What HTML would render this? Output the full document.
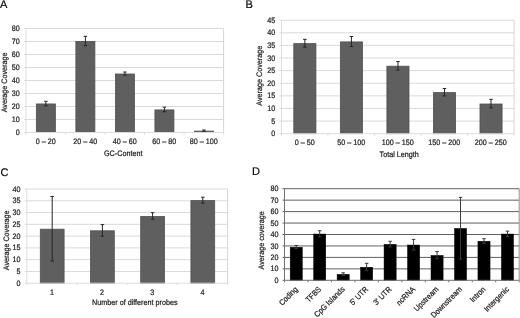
<!DOCTYPE html>
<html><head><meta charset="utf-8"><style>
html,body{margin:0;padding:0;background:#fff;width:520px;height:318px;overflow:hidden}
svg{display:block;will-change:transform}
text{text-rendering:geometricPrecision;font-family:"Liberation Sans", sans-serif;stroke:#1a1a1a;stroke-width:0.2px}
</style></head><body>
<svg width="520" height="318" viewBox="0 0 520 318">
<rect width="520" height="318" fill="#fff"/>
<line x1="24" y1="119.5" x2="223.6" y2="119.5" stroke="#dadada" stroke-width="1"/>
<line x1="24" y1="106.5" x2="223.6" y2="106.5" stroke="#dadada" stroke-width="1"/>
<line x1="24" y1="93.5" x2="223.6" y2="93.5" stroke="#dadada" stroke-width="1"/>
<line x1="24" y1="80.5" x2="223.6" y2="80.5" stroke="#dadada" stroke-width="1"/>
<line x1="24" y1="67.5" x2="223.6" y2="67.5" stroke="#dadada" stroke-width="1"/>
<line x1="24" y1="54.5" x2="223.6" y2="54.5" stroke="#dadada" stroke-width="1"/>
<line x1="24" y1="41.5" x2="223.6" y2="41.5" stroke="#dadada" stroke-width="1"/>
<line x1="24" y1="28.5" x2="223.6" y2="28.5" stroke="#dadada" stroke-width="1"/>
<line x1="223.6" y1="28.5" x2="223.6" y2="132.5" stroke="#d6d6d6" stroke-width="1"/>
<rect x="36.36" y="103.95" width="19" height="28.55" fill="#5f5f5f" stroke="#505050" stroke-width="0.8"/>
<rect x="75.88" y="41.4" width="19" height="91.1" fill="#5f5f5f" stroke="#505050" stroke-width="0.8"/>
<rect x="115.4" y="74" width="19" height="58.5" fill="#5f5f5f" stroke="#505050" stroke-width="0.8"/>
<rect x="154.92" y="109.9" width="19" height="22.6" fill="#5f5f5f" stroke="#505050" stroke-width="0.8"/>
<rect x="194.44" y="131.1" width="19" height="1.4" fill="#5f5f5f" stroke="#505050" stroke-width="0.8"/>
<line x1="45.86" y1="101.3" x2="45.86" y2="105.8" stroke="#262626" stroke-width="1"/>
<line x1="44.11" y1="101.3" x2="47.61" y2="101.3" stroke="#262626" stroke-width="1"/>
<line x1="44.11" y1="105.8" x2="47.61" y2="105.8" stroke="#262626" stroke-width="1"/>
<line x1="85.38" y1="36.3" x2="85.38" y2="45.7" stroke="#262626" stroke-width="1"/>
<line x1="83.63" y1="36.3" x2="87.13" y2="36.3" stroke="#262626" stroke-width="1"/>
<line x1="83.63" y1="45.7" x2="87.13" y2="45.7" stroke="#262626" stroke-width="1"/>
<line x1="124.9" y1="72" x2="124.9" y2="75.2" stroke="#262626" stroke-width="1"/>
<line x1="123.15" y1="72" x2="126.65" y2="72" stroke="#262626" stroke-width="1"/>
<line x1="123.15" y1="75.2" x2="126.65" y2="75.2" stroke="#262626" stroke-width="1"/>
<line x1="164.42" y1="107.2" x2="164.42" y2="111.8" stroke="#262626" stroke-width="1"/>
<line x1="162.67" y1="107.2" x2="166.17" y2="107.2" stroke="#262626" stroke-width="1"/>
<line x1="162.67" y1="111.8" x2="166.17" y2="111.8" stroke="#262626" stroke-width="1"/>
<line x1="203.94" y1="130" x2="203.94" y2="131.4" stroke="#262626" stroke-width="1"/>
<line x1="202.19" y1="130" x2="205.69" y2="130" stroke="#262626" stroke-width="1"/>
<line x1="202.19" y1="131.4" x2="205.69" y2="131.4" stroke="#262626" stroke-width="1"/>
<line x1="26" y1="28.5" x2="26" y2="132.5" stroke="#dcdcdc" stroke-width="1"/>
<line x1="24" y1="132.5" x2="223.6" y2="132.5" stroke="#dcdcdc" stroke-width="1"/>
<line x1="26" y1="132.5" x2="26" y2="134.5" stroke="#dcdcdc" stroke-width="1"/>
<line x1="65.52" y1="132.5" x2="65.52" y2="134.5" stroke="#dcdcdc" stroke-width="1"/>
<line x1="105.04" y1="132.5" x2="105.04" y2="134.5" stroke="#dcdcdc" stroke-width="1"/>
<line x1="144.56" y1="132.5" x2="144.56" y2="134.5" stroke="#dcdcdc" stroke-width="1"/>
<line x1="184.08" y1="132.5" x2="184.08" y2="134.5" stroke="#dcdcdc" stroke-width="1"/>
<line x1="223.6" y1="132.5" x2="223.6" y2="134.5" stroke="#dcdcdc" stroke-width="1"/>
<text transform="translate(19.8,135.1) scale(1,1.1)" text-anchor="end" font-size="7.2" fill="#1a1a1a">0</text>
<text transform="translate(19.8,122.1) scale(1,1.1)" text-anchor="end" font-size="7.2" fill="#1a1a1a">10</text>
<text transform="translate(19.8,109.1) scale(1,1.1)" text-anchor="end" font-size="7.2" fill="#1a1a1a">20</text>
<text transform="translate(19.8,96.1) scale(1,1.1)" text-anchor="end" font-size="7.2" fill="#1a1a1a">30</text>
<text transform="translate(19.8,83.1) scale(1,1.1)" text-anchor="end" font-size="7.2" fill="#1a1a1a">40</text>
<text transform="translate(19.8,70.1) scale(1,1.1)" text-anchor="end" font-size="7.2" fill="#1a1a1a">50</text>
<text transform="translate(19.8,57.1) scale(1,1.1)" text-anchor="end" font-size="7.2" fill="#1a1a1a">60</text>
<text transform="translate(19.8,44.1) scale(1,1.1)" text-anchor="end" font-size="7.2" fill="#1a1a1a">70</text>
<text transform="translate(19.8,31.1) scale(1,1.1)" text-anchor="end" font-size="7.2" fill="#1a1a1a">80</text>
<text transform="translate(45.76,144.2) scale(1,1.1)" text-anchor="middle" font-size="7.2" fill="#1a1a1a">0 – 20</text>
<text transform="translate(85.28,144.2) scale(1,1.1)" text-anchor="middle" font-size="7.2" fill="#1a1a1a">20 – 40</text>
<text transform="translate(124.8,144.2) scale(1,1.1)" text-anchor="middle" font-size="7.2" fill="#1a1a1a">40 – 60</text>
<text transform="translate(164.32,144.2) scale(1,1.1)" text-anchor="middle" font-size="7.2" fill="#1a1a1a">60 – 80</text>
<text transform="translate(203.84,144.2) scale(1,1.1)" text-anchor="middle" font-size="7.2" fill="#1a1a1a">80 – 100</text>
<text transform="translate(123.2,155.6) scale(1,1.1)" text-anchor="middle" font-size="7.2" fill="#1a1a1a">GC-Content</text>
<text transform="translate(7.2,82.4) rotate(-90) scale(1,1.1)" text-anchor="middle" font-size="7.2" fill="#1a1a1a">Average Coverage</text>
<text x="0" y="7.7" font-size="11" fill="#000">A</text>
<line x1="279.4" y1="121.09" x2="514.1" y2="121.09" stroke="#dadada" stroke-width="1"/>
<line x1="279.4" y1="108.48" x2="514.1" y2="108.48" stroke="#dadada" stroke-width="1"/>
<line x1="279.4" y1="95.87" x2="514.1" y2="95.87" stroke="#dadada" stroke-width="1"/>
<line x1="279.4" y1="83.26" x2="514.1" y2="83.26" stroke="#dadada" stroke-width="1"/>
<line x1="279.4" y1="70.64" x2="514.1" y2="70.64" stroke="#dadada" stroke-width="1"/>
<line x1="279.4" y1="58.03" x2="514.1" y2="58.03" stroke="#dadada" stroke-width="1"/>
<line x1="279.4" y1="45.42" x2="514.1" y2="45.42" stroke="#dadada" stroke-width="1"/>
<line x1="279.4" y1="32.81" x2="514.1" y2="32.81" stroke="#dadada" stroke-width="1"/>
<line x1="279.4" y1="20.2" x2="514.1" y2="20.2" stroke="#dadada" stroke-width="1"/>
<line x1="514.1" y1="20.2" x2="514.1" y2="133.7" stroke="#d6d6d6" stroke-width="1"/>
<rect x="293.82" y="43.6" width="22.1" height="90.1" fill="#5f5f5f" stroke="#505050" stroke-width="0.8"/>
<rect x="340.36" y="41.9" width="22.1" height="91.8" fill="#5f5f5f" stroke="#505050" stroke-width="0.8"/>
<rect x="386.9" y="66.2" width="22.1" height="67.5" fill="#5f5f5f" stroke="#505050" stroke-width="0.8"/>
<rect x="433.44" y="92.6" width="22.1" height="41.1" fill="#5f5f5f" stroke="#505050" stroke-width="0.8"/>
<rect x="479.98" y="104" width="22.1" height="29.7" fill="#5f5f5f" stroke="#505050" stroke-width="0.8"/>
<line x1="304.87" y1="39.3" x2="304.87" y2="47.1" stroke="#262626" stroke-width="1"/>
<line x1="303.12" y1="39.3" x2="306.62" y2="39.3" stroke="#262626" stroke-width="1"/>
<line x1="303.12" y1="47.1" x2="306.62" y2="47.1" stroke="#262626" stroke-width="1"/>
<line x1="351.41" y1="36.5" x2="351.41" y2="46.5" stroke="#262626" stroke-width="1"/>
<line x1="349.66" y1="36.5" x2="353.16" y2="36.5" stroke="#262626" stroke-width="1"/>
<line x1="349.66" y1="46.5" x2="353.16" y2="46.5" stroke="#262626" stroke-width="1"/>
<line x1="397.95" y1="61.5" x2="397.95" y2="70.1" stroke="#262626" stroke-width="1"/>
<line x1="396.2" y1="61.5" x2="399.7" y2="61.5" stroke="#262626" stroke-width="1"/>
<line x1="396.2" y1="70.1" x2="399.7" y2="70.1" stroke="#262626" stroke-width="1"/>
<line x1="444.49" y1="88.5" x2="444.49" y2="95.9" stroke="#262626" stroke-width="1"/>
<line x1="442.74" y1="88.5" x2="446.24" y2="88.5" stroke="#262626" stroke-width="1"/>
<line x1="442.74" y1="95.9" x2="446.24" y2="95.9" stroke="#262626" stroke-width="1"/>
<line x1="491.03" y1="99.35" x2="491.03" y2="107.85" stroke="#262626" stroke-width="1"/>
<line x1="489.28" y1="99.35" x2="492.78" y2="99.35" stroke="#262626" stroke-width="1"/>
<line x1="489.28" y1="107.85" x2="492.78" y2="107.85" stroke="#262626" stroke-width="1"/>
<line x1="281.4" y1="20.2" x2="281.4" y2="133.7" stroke="#dcdcdc" stroke-width="1"/>
<line x1="279.4" y1="133.7" x2="514.1" y2="133.7" stroke="#dcdcdc" stroke-width="1"/>
<line x1="281.4" y1="133.7" x2="281.4" y2="135.7" stroke="#dcdcdc" stroke-width="1"/>
<line x1="327.94" y1="133.7" x2="327.94" y2="135.7" stroke="#dcdcdc" stroke-width="1"/>
<line x1="374.48" y1="133.7" x2="374.48" y2="135.7" stroke="#dcdcdc" stroke-width="1"/>
<line x1="421.02" y1="133.7" x2="421.02" y2="135.7" stroke="#dcdcdc" stroke-width="1"/>
<line x1="467.56" y1="133.7" x2="467.56" y2="135.7" stroke="#dcdcdc" stroke-width="1"/>
<line x1="514.1" y1="133.7" x2="514.1" y2="135.7" stroke="#dcdcdc" stroke-width="1"/>
<text transform="translate(275.3,136.3) scale(1,1.1)" text-anchor="end" font-size="7.2" fill="#1a1a1a">0</text>
<text transform="translate(275.3,123.69) scale(1,1.1)" text-anchor="end" font-size="7.2" fill="#1a1a1a">5</text>
<text transform="translate(275.3,111.08) scale(1,1.1)" text-anchor="end" font-size="7.2" fill="#1a1a1a">10</text>
<text transform="translate(275.3,98.47) scale(1,1.1)" text-anchor="end" font-size="7.2" fill="#1a1a1a">15</text>
<text transform="translate(275.3,85.86) scale(1,1.1)" text-anchor="end" font-size="7.2" fill="#1a1a1a">20</text>
<text transform="translate(275.3,73.24) scale(1,1.1)" text-anchor="end" font-size="7.2" fill="#1a1a1a">25</text>
<text transform="translate(275.3,60.63) scale(1,1.1)" text-anchor="end" font-size="7.2" fill="#1a1a1a">30</text>
<text transform="translate(275.3,48.02) scale(1,1.1)" text-anchor="end" font-size="7.2" fill="#1a1a1a">35</text>
<text transform="translate(275.3,35.41) scale(1,1.1)" text-anchor="end" font-size="7.2" fill="#1a1a1a">40</text>
<text transform="translate(275.3,22.8) scale(1,1.1)" text-anchor="end" font-size="7.2" fill="#1a1a1a">45</text>
<text transform="translate(304.67,145.2) scale(1,1.1)" text-anchor="middle" font-size="7.2" fill="#1a1a1a">0 – 50</text>
<text transform="translate(351.21,145.2) scale(1,1.1)" text-anchor="middle" font-size="7.2" fill="#1a1a1a">50 – 100</text>
<text transform="translate(397.75,145.2) scale(1,1.1)" text-anchor="middle" font-size="7.2" fill="#1a1a1a">100 – 150</text>
<text transform="translate(444.29,145.2) scale(1,1.1)" text-anchor="middle" font-size="7.2" fill="#1a1a1a">150 – 200</text>
<text transform="translate(490.83,145.2) scale(1,1.1)" text-anchor="middle" font-size="7.2" fill="#1a1a1a">200 – 250</text>
<text transform="translate(399.2,156.9) scale(1,1.1)" text-anchor="middle" font-size="7.2" fill="#1a1a1a">Total Length</text>
<text transform="translate(262.2,75.75) rotate(-90) scale(1,1.1)" text-anchor="middle" font-size="7.2" fill="#1a1a1a">Average Coverage</text>
<text x="245.6" y="7.7" font-size="11" fill="#000">B</text>
<line x1="24.8" y1="271.43" x2="227.6" y2="271.43" stroke="#dadada" stroke-width="1"/>
<line x1="24.8" y1="259.65" x2="227.6" y2="259.65" stroke="#dadada" stroke-width="1"/>
<line x1="24.8" y1="247.88" x2="227.6" y2="247.88" stroke="#dadada" stroke-width="1"/>
<line x1="24.8" y1="236.1" x2="227.6" y2="236.1" stroke="#dadada" stroke-width="1"/>
<line x1="24.8" y1="224.32" x2="227.6" y2="224.32" stroke="#dadada" stroke-width="1"/>
<line x1="24.8" y1="212.55" x2="227.6" y2="212.55" stroke="#dadada" stroke-width="1"/>
<line x1="24.8" y1="200.78" x2="227.6" y2="200.78" stroke="#dadada" stroke-width="1"/>
<line x1="24.8" y1="189" x2="227.6" y2="189" stroke="#dadada" stroke-width="1"/>
<line x1="227.6" y1="189" x2="227.6" y2="283.2" stroke="#d6d6d6" stroke-width="1"/>
<rect x="40.3" y="229.2" width="23.8" height="54" fill="#5f5f5f" stroke="#505050" stroke-width="0.8"/>
<rect x="90.5" y="230.8" width="23.8" height="52.4" fill="#5f5f5f" stroke="#505050" stroke-width="0.8"/>
<rect x="140.7" y="216.4" width="23.8" height="66.8" fill="#5f5f5f" stroke="#505050" stroke-width="0.8"/>
<rect x="190.9" y="200.6" width="23.8" height="82.6" fill="#5f5f5f" stroke="#505050" stroke-width="0.8"/>
<line x1="52.2" y1="196.5" x2="52.2" y2="261.1" stroke="#262626" stroke-width="1"/>
<line x1="50.45" y1="196.5" x2="53.95" y2="196.5" stroke="#262626" stroke-width="1"/>
<line x1="50.45" y1="261.1" x2="53.95" y2="261.1" stroke="#262626" stroke-width="1"/>
<line x1="102.4" y1="224.6" x2="102.4" y2="236.2" stroke="#262626" stroke-width="1"/>
<line x1="100.65" y1="224.6" x2="104.15" y2="224.6" stroke="#262626" stroke-width="1"/>
<line x1="100.65" y1="236.2" x2="104.15" y2="236.2" stroke="#262626" stroke-width="1"/>
<line x1="152.6" y1="212.7" x2="152.6" y2="219.3" stroke="#262626" stroke-width="1"/>
<line x1="150.85" y1="212.7" x2="154.35" y2="212.7" stroke="#262626" stroke-width="1"/>
<line x1="150.85" y1="219.3" x2="154.35" y2="219.3" stroke="#262626" stroke-width="1"/>
<line x1="202.8" y1="197.2" x2="202.8" y2="203.2" stroke="#262626" stroke-width="1"/>
<line x1="201.05" y1="197.2" x2="204.55" y2="197.2" stroke="#262626" stroke-width="1"/>
<line x1="201.05" y1="203.2" x2="204.55" y2="203.2" stroke="#262626" stroke-width="1"/>
<line x1="26.8" y1="189" x2="26.8" y2="283.2" stroke="#dcdcdc" stroke-width="1"/>
<line x1="24.8" y1="283.2" x2="227.6" y2="283.2" stroke="#dcdcdc" stroke-width="1"/>
<line x1="26.8" y1="283.2" x2="26.8" y2="285.2" stroke="#dcdcdc" stroke-width="1"/>
<line x1="77" y1="283.2" x2="77" y2="285.2" stroke="#dcdcdc" stroke-width="1"/>
<line x1="127.2" y1="283.2" x2="127.2" y2="285.2" stroke="#dcdcdc" stroke-width="1"/>
<line x1="177.4" y1="283.2" x2="177.4" y2="285.2" stroke="#dcdcdc" stroke-width="1"/>
<line x1="227.6" y1="283.2" x2="227.6" y2="285.2" stroke="#dcdcdc" stroke-width="1"/>
<text transform="translate(20.6,285.8) scale(1,1.1)" text-anchor="end" font-size="7.2" fill="#1a1a1a">0</text>
<text transform="translate(20.6,274.03) scale(1,1.1)" text-anchor="end" font-size="7.2" fill="#1a1a1a">5</text>
<text transform="translate(20.6,262.25) scale(1,1.1)" text-anchor="end" font-size="7.2" fill="#1a1a1a">10</text>
<text transform="translate(20.6,250.47) scale(1,1.1)" text-anchor="end" font-size="7.2" fill="#1a1a1a">15</text>
<text transform="translate(20.6,238.7) scale(1,1.1)" text-anchor="end" font-size="7.2" fill="#1a1a1a">20</text>
<text transform="translate(20.6,226.92) scale(1,1.1)" text-anchor="end" font-size="7.2" fill="#1a1a1a">25</text>
<text transform="translate(20.6,215.15) scale(1,1.1)" text-anchor="end" font-size="7.2" fill="#1a1a1a">30</text>
<text transform="translate(20.6,203.38) scale(1,1.1)" text-anchor="end" font-size="7.2" fill="#1a1a1a">35</text>
<text transform="translate(20.6,191.6) scale(1,1.1)" text-anchor="end" font-size="7.2" fill="#1a1a1a">40</text>
<text transform="translate(51.9,295) scale(1,1.1)" text-anchor="middle" font-size="7.2" fill="#1a1a1a">1</text>
<text transform="translate(102.1,295) scale(1,1.1)" text-anchor="middle" font-size="7.2" fill="#1a1a1a">2</text>
<text transform="translate(152.3,295) scale(1,1.1)" text-anchor="middle" font-size="7.2" fill="#1a1a1a">3</text>
<text transform="translate(202.5,295) scale(1,1.1)" text-anchor="middle" font-size="7.2" fill="#1a1a1a">4</text>
<text transform="translate(134.8,305.2) scale(1,1.1)" text-anchor="middle" font-size="7.2" fill="#1a1a1a">Number of different probes</text>
<text transform="translate(8.8,240.3) rotate(-90) scale(1,1.1)" text-anchor="middle" font-size="7.2" fill="#1a1a1a">Average Coverage</text>
<text x="0.45" y="175.8" font-size="11" fill="#000">C</text>
<line x1="282.5" y1="268.85" x2="519.2" y2="268.85" stroke="#606060" stroke-width="1"/>
<line x1="282.5" y1="257.4" x2="519.2" y2="257.4" stroke="#606060" stroke-width="1"/>
<line x1="282.5" y1="245.95" x2="519.2" y2="245.95" stroke="#606060" stroke-width="1"/>
<line x1="282.5" y1="234.5" x2="519.2" y2="234.5" stroke="#606060" stroke-width="1"/>
<line x1="282.5" y1="223.05" x2="519.2" y2="223.05" stroke="#606060" stroke-width="1"/>
<line x1="282.5" y1="211.6" x2="519.2" y2="211.6" stroke="#606060" stroke-width="1"/>
<line x1="282.5" y1="200.15" x2="519.2" y2="200.15" stroke="#606060" stroke-width="1"/>
<line x1="282.5" y1="188.7" x2="519.2" y2="188.7" stroke="#606060" stroke-width="1"/>
<line x1="519.2" y1="188.7" x2="519.2" y2="280.3" stroke="#909090" stroke-width="1"/>
<rect x="290.19" y="247.25" width="12.1" height="33.05" fill="#000" stroke="#000" stroke-width="0.5"/>
<rect x="313.66" y="234.05" width="12.1" height="46.25" fill="#000" stroke="#000" stroke-width="0.5"/>
<rect x="337.12" y="274.35" width="12.1" height="5.95" fill="#000" stroke="#000" stroke-width="0.5"/>
<rect x="360.6" y="267.25" width="12.1" height="13.05" fill="#000" stroke="#000" stroke-width="0.5"/>
<rect x="384.06" y="244.35" width="12.1" height="35.95" fill="#000" stroke="#000" stroke-width="0.5"/>
<rect x="407.54" y="245.05" width="12.1" height="35.25" fill="#000" stroke="#000" stroke-width="0.5"/>
<rect x="431.01" y="255.45" width="12.1" height="24.85" fill="#000" stroke="#000" stroke-width="0.5"/>
<rect x="454.48" y="228.45" width="12.1" height="51.85" fill="#000" stroke="#000" stroke-width="0.5"/>
<rect x="477.95" y="241.25" width="12.1" height="39.05" fill="#000" stroke="#000" stroke-width="0.5"/>
<rect x="501.42" y="234.05" width="12.1" height="46.25" fill="#000" stroke="#000" stroke-width="0.5"/>
<line x1="296.24" y1="245.4" x2="296.24" y2="248.6" stroke="#3a3a3a" stroke-width="1"/>
<line x1="294.49" y1="245.4" x2="297.99" y2="245.4" stroke="#3a3a3a" stroke-width="1"/>
<line x1="294.49" y1="248.6" x2="297.99" y2="248.6" stroke="#3a3a3a" stroke-width="1"/>
<line x1="319.71" y1="230.7" x2="319.71" y2="236.9" stroke="#3a3a3a" stroke-width="1"/>
<line x1="317.96" y1="230.7" x2="321.46" y2="230.7" stroke="#3a3a3a" stroke-width="1"/>
<line x1="317.96" y1="236.9" x2="321.46" y2="236.9" stroke="#3a3a3a" stroke-width="1"/>
<line x1="343.18" y1="272.8" x2="343.18" y2="275.4" stroke="#3a3a3a" stroke-width="1"/>
<line x1="341.43" y1="272.8" x2="344.93" y2="272.8" stroke="#3a3a3a" stroke-width="1"/>
<line x1="341.43" y1="275.4" x2="344.93" y2="275.4" stroke="#3a3a3a" stroke-width="1"/>
<line x1="366.65" y1="263.3" x2="366.65" y2="270.7" stroke="#3a3a3a" stroke-width="1"/>
<line x1="364.9" y1="263.3" x2="368.4" y2="263.3" stroke="#3a3a3a" stroke-width="1"/>
<line x1="364.9" y1="270.7" x2="368.4" y2="270.7" stroke="#3a3a3a" stroke-width="1"/>
<line x1="390.12" y1="241.3" x2="390.12" y2="246.9" stroke="#3a3a3a" stroke-width="1"/>
<line x1="388.37" y1="241.3" x2="391.87" y2="241.3" stroke="#3a3a3a" stroke-width="1"/>
<line x1="388.37" y1="246.9" x2="391.87" y2="246.9" stroke="#3a3a3a" stroke-width="1"/>
<line x1="413.59" y1="239.4" x2="413.59" y2="250.2" stroke="#3a3a3a" stroke-width="1"/>
<line x1="411.84" y1="239.4" x2="415.34" y2="239.4" stroke="#3a3a3a" stroke-width="1"/>
<line x1="411.84" y1="250.2" x2="415.34" y2="250.2" stroke="#3a3a3a" stroke-width="1"/>
<line x1="437.06" y1="251.6" x2="437.06" y2="258.8" stroke="#3a3a3a" stroke-width="1"/>
<line x1="435.31" y1="251.6" x2="438.81" y2="251.6" stroke="#3a3a3a" stroke-width="1"/>
<line x1="435.31" y1="258.8" x2="438.81" y2="258.8" stroke="#3a3a3a" stroke-width="1"/>
<line x1="460.53" y1="197.4" x2="460.53" y2="259" stroke="#3a3a3a" stroke-width="1"/>
<line x1="458.78" y1="197.4" x2="462.28" y2="197.4" stroke="#3a3a3a" stroke-width="1"/>
<line x1="458.78" y1="259" x2="462.28" y2="259" stroke="#3a3a3a" stroke-width="1"/>
<line x1="484" y1="238.7" x2="484" y2="243.3" stroke="#3a3a3a" stroke-width="1"/>
<line x1="482.25" y1="238.7" x2="485.75" y2="238.7" stroke="#3a3a3a" stroke-width="1"/>
<line x1="482.25" y1="243.3" x2="485.75" y2="243.3" stroke="#3a3a3a" stroke-width="1"/>
<line x1="507.47" y1="231.1" x2="507.47" y2="236.5" stroke="#3a3a3a" stroke-width="1"/>
<line x1="505.72" y1="231.1" x2="509.22" y2="231.1" stroke="#3a3a3a" stroke-width="1"/>
<line x1="505.72" y1="236.5" x2="509.22" y2="236.5" stroke="#3a3a3a" stroke-width="1"/>
<line x1="284.5" y1="188.7" x2="284.5" y2="280.3" stroke="#707070" stroke-width="1"/>
<line x1="282.5" y1="280.3" x2="519.2" y2="280.3" stroke="#707070" stroke-width="1"/>
<line x1="284.5" y1="280.3" x2="284.5" y2="282.3" stroke="#707070" stroke-width="1"/>
<line x1="307.97" y1="280.3" x2="307.97" y2="282.3" stroke="#707070" stroke-width="1"/>
<line x1="331.44" y1="280.3" x2="331.44" y2="282.3" stroke="#707070" stroke-width="1"/>
<line x1="354.91" y1="280.3" x2="354.91" y2="282.3" stroke="#707070" stroke-width="1"/>
<line x1="378.38" y1="280.3" x2="378.38" y2="282.3" stroke="#707070" stroke-width="1"/>
<line x1="401.85" y1="280.3" x2="401.85" y2="282.3" stroke="#707070" stroke-width="1"/>
<line x1="425.32" y1="280.3" x2="425.32" y2="282.3" stroke="#707070" stroke-width="1"/>
<line x1="448.79" y1="280.3" x2="448.79" y2="282.3" stroke="#707070" stroke-width="1"/>
<line x1="472.26" y1="280.3" x2="472.26" y2="282.3" stroke="#707070" stroke-width="1"/>
<line x1="495.73" y1="280.3" x2="495.73" y2="282.3" stroke="#707070" stroke-width="1"/>
<line x1="519.2" y1="280.3" x2="519.2" y2="282.3" stroke="#707070" stroke-width="1"/>
<text transform="translate(278.4,282.9) scale(1,1.1)" text-anchor="end" font-size="7.2" fill="#1a1a1a">0</text>
<text transform="translate(278.4,271.45) scale(1,1.1)" text-anchor="end" font-size="7.2" fill="#1a1a1a">10</text>
<text transform="translate(278.4,260) scale(1,1.1)" text-anchor="end" font-size="7.2" fill="#1a1a1a">20</text>
<text transform="translate(278.4,248.55) scale(1,1.1)" text-anchor="end" font-size="7.2" fill="#1a1a1a">30</text>
<text transform="translate(278.4,237.1) scale(1,1.1)" text-anchor="end" font-size="7.2" fill="#1a1a1a">40</text>
<text transform="translate(278.4,225.65) scale(1,1.1)" text-anchor="end" font-size="7.2" fill="#1a1a1a">50</text>
<text transform="translate(278.4,214.2) scale(1,1.1)" text-anchor="end" font-size="7.2" fill="#1a1a1a">60</text>
<text transform="translate(278.4,202.75) scale(1,1.1)" text-anchor="end" font-size="7.2" fill="#1a1a1a">70</text>
<text transform="translate(278.4,191.3) scale(1,1.1)" text-anchor="end" font-size="7.2" fill="#1a1a1a">80</text>
<text transform="translate(298.24,289.8) rotate(-45) scale(1,1.1)" text-anchor="end" font-size="7.2" fill="#1a1a1a">Coding</text>
<text transform="translate(321.71,289.8) rotate(-45) scale(1,1.1)" text-anchor="end" font-size="7.2" fill="#1a1a1a">TFBS</text>
<text transform="translate(345.18,289.8) rotate(-45) scale(1,1.1)" text-anchor="end" font-size="7.2" fill="#1a1a1a">CpG Islands</text>
<text transform="translate(368.65,289.8) rotate(-45) scale(1,1.1)" text-anchor="end" font-size="7.2" fill="#1a1a1a">5' UTR</text>
<text transform="translate(392.12,289.8) rotate(-45) scale(1,1.1)" text-anchor="end" font-size="7.2" fill="#1a1a1a">3' UTR</text>
<text transform="translate(415.59,289.8) rotate(-45) scale(1,1.1)" text-anchor="end" font-size="7.2" fill="#1a1a1a">ncRNA</text>
<text transform="translate(439.06,289.8) rotate(-45) scale(1,1.1)" text-anchor="end" font-size="7.2" fill="#1a1a1a">Upstream</text>
<text transform="translate(462.53,289.8) rotate(-45) scale(1,1.1)" text-anchor="end" font-size="7.2" fill="#1a1a1a">Downstream</text>
<text transform="translate(486,289.8) rotate(-45) scale(1,1.1)" text-anchor="end" font-size="7.2" fill="#1a1a1a">Intron</text>
<text transform="translate(509.47,289.8) rotate(-45) scale(1,1.1)" text-anchor="end" font-size="7.2" fill="#1a1a1a">Intergenic</text>
<text transform="translate(0,0) scale(1,1.1)" text-anchor="middle" font-size="7.2" fill="#1a1a1a"></text>
<text transform="translate(263.9,240.4) rotate(-90) scale(1,1.1)" text-anchor="middle" font-size="7.2" fill="#1a1a1a">Average coverage</text>
<text x="252.1" y="175.4" font-size="11" fill="#000">D</text>
</svg>
</body></html>
